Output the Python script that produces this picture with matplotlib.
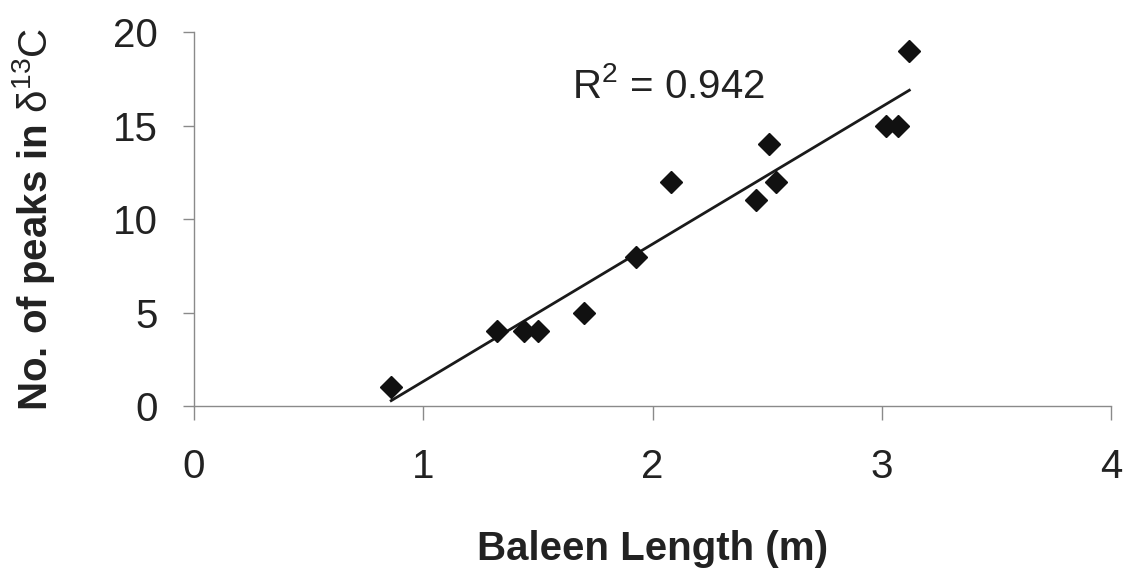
import matplotlib
matplotlib.use('Agg')
import matplotlib.pyplot as plt
import numpy as np

plt.rcParams['font.family'] = ['Liberation Sans', 'DejaVu Sans']
plt.rcParams['mathtext.fontset'] = 'custom'
plt.rcParams['mathtext.rm'] = 'Liberation Sans'
plt.rcParams['mathtext.it'] = 'Liberation Sans:italic'
plt.rcParams['mathtext.bf'] = 'Liberation Sans:bold'

# baleen length (m) vs number of peaks in d13C
length = [0.86, 1.32, 1.44, 1.50, 1.70, 1.93, 2.08, 2.45, 2.51, 2.54, 3.02, 3.07, 3.12]
peaks = [1, 4, 4, 4, 5, 8, 12, 11, 14, 12, 15, 15, 19]
r2_label = r'R$^2$ = 0.942'

xticks = [0, 1, 2, 3, 4]
yticks = [0, 5, 10, 15, 20]

fs = 29

fig = plt.figure(figsize=(11.28, 5.76), dpi=100)
ax = fig.add_axes([0.172, 0.295, 0.813, 0.649])

# fitted trend line over the data range
slope, icpt = np.polyfit(length, peaks, 1)
xf = np.array([min(length), max(length)])
ax.plot(xf, slope * xf + icpt, c='#1a1a1a', lw=2, zorder=2)

ax.plot(length, peaks, ls='none', marker='D', ms=11, c='#111111', zorder=3)

ax.text(1.65, 17.1, r2_label, fontsize=fs, va='center', ha='left', color='#222222')

ax.set_xlim(0, 4)
ax.set_ylim(0, 20)
ax.set_xticks(xticks)
ax.set_yticks(yticks)

for s in ['top', 'right']:
    ax.spines[s].set_visible(False)
for s in ['left', 'bottom']:
    ax.spines[s].set_color('#8a8a8a')
    ax.spines[s].set_linewidth(1.0)

ax.tick_params(axis='x', direction='out', length=10, width=1, color='#8a8a8a',
               labelsize=fs, pad=20, labelcolor='#222222')
ax.tick_params(axis='y', direction='out', length=8, width=1, color='#8a8a8a',
               labelsize=fs, pad=18, labelcolor='#222222')

ax.set_xlabel('Baleen Length (m)', fontsize=fs, weight='bold', labelpad=32, color='#222222')
ax.set_ylabel(r'$\mathbf{No.\,of\ peaks\ in\ }\mathrm{\delta^{13}C}$', fontsize=fs,
              labelpad=40, color='#222222')

fig.savefig('out.png', dpi=100)
